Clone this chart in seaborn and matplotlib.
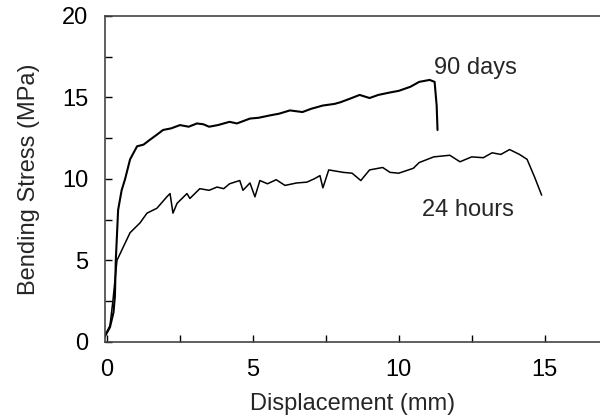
import numpy as np
import pandas as pd
import matplotlib
matplotlib.use("Agg")
import matplotlib.pyplot as plt
import seaborn as sns
from matplotlib.ticker import MultipleLocator

# curves (displacement mm, stress MPa)
x_90d = [-0.1, 0.1, 0.22, 0.27, 0.3, 0.38, 0.5, 0.62, 0.79, 1.03, 1.25, 1.47, 1.7, 1.92, 2.2,
         2.5, 2.8, 3.08, 3.3, 3.5, 3.8, 4.2, 4.45, 4.9, 5.2, 5.6, 5.9, 6.27, 6.7, 7.0, 7.4,
         7.8, 8.0, 8.3, 8.66, 9.0, 9.3, 9.7, 10.0, 10.4, 10.7, 11.06, 11.23, 11.3, 11.33]
y_90d = [0.25, 0.9, 1.8, 2.8, 5.0, 8.1, 9.3, 10.0, 11.2, 12.0, 12.1, 12.4, 12.7, 13.0, 13.1,
         13.3, 13.2, 13.4, 13.35, 13.2, 13.3, 13.5, 13.4, 13.7, 13.75, 13.9, 14.0, 14.2, 14.1, 14.3, 14.5,
         14.6, 14.7, 14.9, 15.15, 14.96, 15.15, 15.3, 15.4, 15.65, 15.95, 16.07, 15.95, 14.5, 13.0]

x_24h = [-0.1, 0.1, 0.2, 0.34, 0.55, 0.79, 1.13, 1.37, 1.71, 2.05, 2.16, 2.26, 2.4, 2.74, 2.84,
         3.18, 3.5, 3.77, 4.0, 4.2, 4.55, 4.66, 4.9, 5.07, 5.24, 5.5, 5.8, 6.1, 6.5, 6.85, 7.1,
         7.3, 7.4, 7.6, 8.1, 8.4, 8.7, 9.0, 9.45, 9.7, 10.0, 10.5, 10.7, 11.2, 11.75, 12.1,
         12.5, 12.9, 13.2, 13.5, 13.8, 14.14, 14.4, 14.66, 14.9]
y_24h = [0.3, 1.0, 2.5, 5.0, 5.8, 6.7, 7.3, 7.9, 8.2, 8.9, 9.1, 7.9, 8.5, 9.1, 8.8,
         9.4, 9.3, 9.5, 9.4, 9.7, 9.9, 9.3, 9.75, 8.9, 9.9, 9.7, 9.95, 9.6, 9.75, 9.8, 10.0,
         10.2, 9.45, 10.55, 10.4, 10.35, 9.9, 10.55, 10.7, 10.4, 10.35, 10.65, 11.0, 11.35, 11.45, 11.05,
         11.35, 11.3, 11.6, 11.5, 11.8, 11.5, 11.2, 10.1, 9.0]

df = pd.concat([
    pd.DataFrame({"disp": x_90d, "stress": y_90d, "age": "90 days"}),
    pd.DataFrame({"disp": x_24h, "stress": y_24h, "age": "24 hours"}),
])

sns.set_style("ticks")
plt.rcParams["font.family"] = ["Liberation Sans", "DejaVu Sans"]

fig = plt.figure(figsize=(6, 4.17), dpi=100)
ax = fig.add_axes([0.175, 0.18, 0.825, 0.782])

sns.lineplot(data=df[df.age == "90 days"], x="disp", y="stress", sort=False,
             color="black", linewidth=1.5, ax=ax)
sns.lineplot(data=df[df.age == "24 hours"], x="disp", y="stress", sort=False,
             color="black", linewidth=1.1, ax=ax)

ax.set_xlim(-0.07, 16.9)
ax.set_ylim(0, 20)
ax.xaxis.set_major_locator(MultipleLocator(5))
ax.xaxis.set_minor_locator(MultipleLocator(2.5))
ax.yaxis.set_major_locator(MultipleLocator(5))
ax.yaxis.set_minor_locator(MultipleLocator(2.5))
ax.tick_params(which="both", direction="in", length=5, width=1, labelsize=17, colors="black")
ax.tick_params(axis="x", pad=12)
ax.tick_params(axis="y", pad=12)
ax.spines["right"].set_visible(False)
for s in ["left", "top", "bottom"]:
    ax.spines[s].set_color("#444444")
    ax.spines[s].set_linewidth(1.2)

ax.text(12.64, 16.8, "90 days", fontsize=17, ha="center", va="center")
ax.text(12.36, 8.1, "24 hours", fontsize=17, ha="center", va="center")

ax.set_xlabel("Displacement (mm)", fontsize=17, labelpad=9)
ax.set_ylabel("Bending Stress (MPa)", fontsize=17)
ax.yaxis.set_label_coords(-0.132, 0.5)

fig.savefig("out.png", dpi=100)
